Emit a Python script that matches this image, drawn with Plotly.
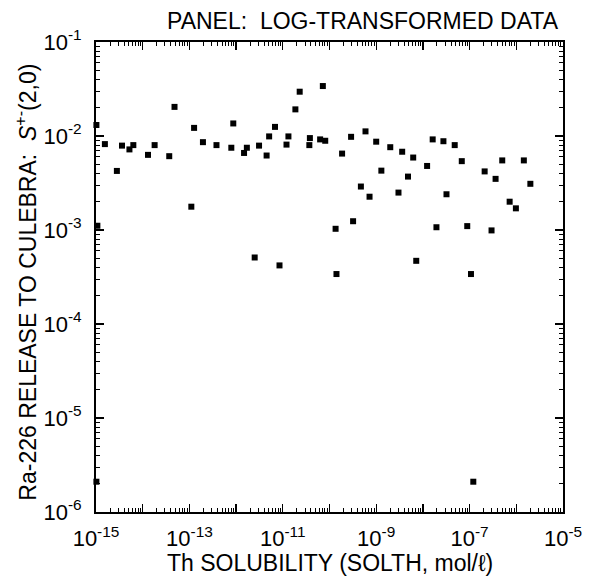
import plotly.graph_objects as go

# Th solubility (mol/l) and Ra-226 release values
solth = [1.02e-15, 1.07e-15, 1.02e-15, 1.55e-15, 2.8e-15, 3.6e-15, 5.2e-15, 6.3e-15,
         1.3e-14, 1.8e-14, 3.7e-14, 4.8e-14, 1.1e-13, 1.26e-13, 1.95e-13, 3.8e-13,
         7.9e-13, 8.7e-13, 1.48e-12, 1.7e-12, 2.5e-12, 3.1e-12, 4.5e-12, 5.1e-12,
         6.8e-12, 8.5e-12, 1.2e-11, 1.32e-11, 1.86e-11, 2.3e-11, 3.7e-11, 3.8e-11,
         6.3e-11, 7.2e-11, 8.1e-11, 1.35e-10, 1.41e-10, 1.86e-10, 2.9e-10, 3.2e-10,
         4.7e-10, 5.9e-10, 7.2e-10, 1.0e-9, 1.29e-9, 2.0e-9, 3.0e-9, 3.6e-9,
         4.8e-9, 6.2e-9, 7.2e-9, 1.23e-8, 1.62e-8, 1.95e-8, 2.75e-8, 3.2e-8,
         4.8e-8, 6.8e-8, 8.9e-8, 1.07e-7, 1.2e-7, 2.1e-7, 2.95e-7, 3.6e-7,
         5.0e-7, 7.2e-7, 9.8e-7, 1.45e-6, 2.0e-6]
release = [0.0131, 0.00111, 2.1e-6, 0.0082, 0.00425, 0.0079, 0.0072, 0.0080,
           0.0063, 0.0080, 0.0061, 0.0204, 0.00177, 0.0122, 0.0086, 0.0080,
           0.0075, 0.0136, 0.0066, 0.0075, 0.00051, 0.0079, 0.0062, 0.0099,
           0.0125, 0.00042, 0.0081, 0.0099, 0.0192, 0.0296, 0.0080, 0.0095,
           0.0092, 0.0340, 0.0089, 0.00103, 0.00034, 0.0065, 0.0098, 0.00124,
           0.0029, 0.0112, 0.00226, 0.0087, 0.00428, 0.0076, 0.0025, 0.0068,
           0.0037, 0.0059, 0.00047, 0.0048, 0.0092, 0.00107, 0.0088, 0.0024,
           0.0080, 0.0054, 0.0011, 0.00034, 2.1e-6, 0.0042, 0.00099, 0.0035,
           0.0055, 0.0020, 0.0017, 0.0055, 0.0031]

x_exps = list(range(-15, -4))
x_labels = ["10<sup>%d</sup>" % e if (e % 2 == 1) else "" for e in x_exps]
y_exps = list(range(-6, 0))
y_labels = ["10<sup>%d</sup>" % e for e in y_exps]

x_major = [10.0 ** e for e in x_exps]
y_major = [10.0 ** e for e in y_exps]
x_minor = [m * 10.0 ** e for e in x_exps[:-1] for m in range(2, 10)]
y_minor = [m * 10.0 ** e for e in y_exps[:-1] for m in range(2, 10)]

FONT = "Liberation Sans, Arial, Helvetica, sans-serif"
TICK_SIZE = 22
TITLE_SIZE = 23

fig = go.Figure()
fig.add_trace(go.Scatter(
    x=solth, y=release, mode="markers",
    marker=dict(symbol="square", size=6, color="black", line=dict(width=0)),
    cliponaxis=False, showlegend=False,
))

axis_common = dict(
    type="log", showgrid=False, zeroline=False,
    showline=True, linecolor="black", linewidth=2, mirror="ticks",
    ticks="inside", ticklen=8, tickwidth=1.3, tickcolor="black",
    tickfont=dict(family=FONT, size=TICK_SIZE, color="black"),
)

fig.update_xaxes(
    **axis_common,
    range=[-15, -5],
    tickmode="array", tickvals=x_major, ticktext=x_labels,
    minor=dict(tickmode="array", tickvals=x_minor, ticks="inside", ticklen=4,
               tickwidth=1, tickcolor="black"),
    ticklabelstandoff=6,
)
fig.update_yaxes(
    **axis_common,
    range=[-6, -1],
    tickmode="array", tickvals=y_major, ticktext=y_labels,
    minor=dict(tickmode="array", tickvals=y_minor, ticks="inside", ticklen=4,
               tickwidth=1, tickcolor="black"),
    ticklabelstandoff=8,
)

# axis titles and panel title
fig.add_annotation(
    text="Th SOLUBILITY (SOLTH, mol/\u2113)", xref="paper", yref="paper",
    x=0.5, y=-0.108, xanchor="center", yanchor="middle", showarrow=False,
    font=dict(family=FONT, size=TITLE_SIZE, color="black"),
)
fig.add_annotation(
    text="Ra-226 RELEASE TO CULEBRA:  <i>S</i><sup>+-</sup>(2,0)",
    xref="paper", yref="paper", x=-0.150, y=0.49, textangle=-90,
    xanchor="center", yanchor="middle", showarrow=False,
    font=dict(family=FONT, size=TITLE_SIZE, color="black"),
)
fig.add_annotation(
    text="PANEL:  LOG-TRANSFORMED DATA", xref="paper", yref="paper",
    x=0.996, y=1.045, xanchor="right", yanchor="middle", showarrow=False,
    font=dict(family=FONT, size=TITLE_SIZE, color="black"),
)

fig.update_layout(
    width=594, height=588,
    margin=dict(l=96, r=25, t=42, b=76),
    paper_bgcolor="white", plot_bgcolor="white",
    font=dict(family=FONT, color="black"),
)

fig.write_html("out.html", config={"displayModeBar": False, "staticPlot": True},
               post_script="document.body.style.margin='0';")
